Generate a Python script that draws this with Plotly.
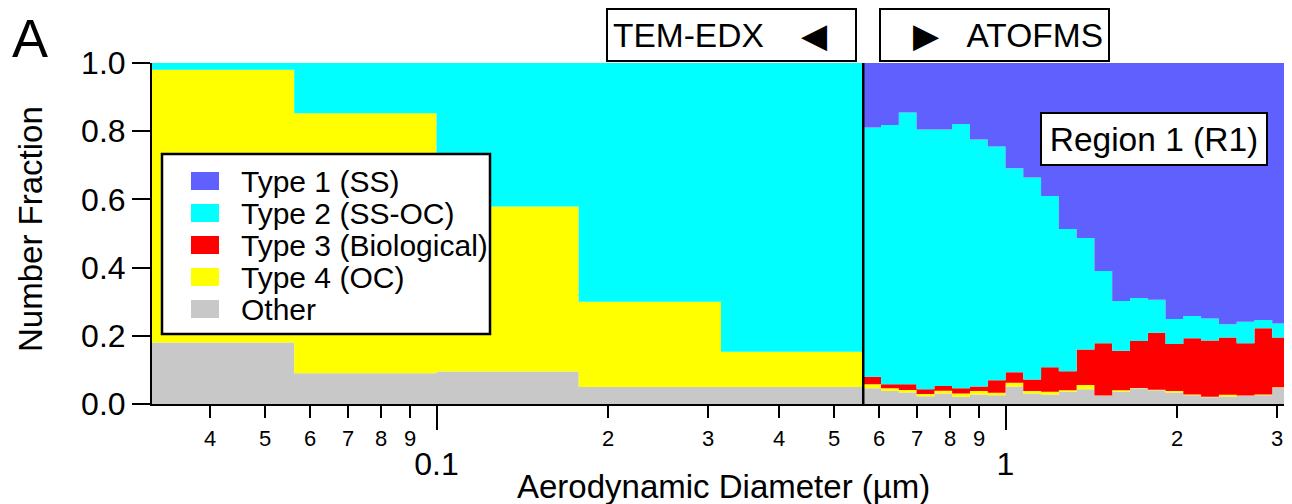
import numpy as np
import plotly.graph_objects as go

# ---------------- data ----------------
series_names = ["Type 1 (SS)", "Type 2 (SS-OC)", "Type 3 (Biological)", "Type 4 (OC)", "Other"]
series_colors = ["#6060FF", "#00FFFF", "#FF0000", "#FFFF00", "#C8C8C8"]

# TEM-EDX size bins (µm edges) and number fractions
tem_edges = [0.03162, 0.05623, 0.1, 0.1778, 0.3162, 0.5623]
tem_type1 = [0.0, 0.0, 0.0, 0.0, 0.0]
tem_type2 = [0.020, 0.147, 0.421, 0.700, 0.847]
tem_type3 = [0.0, 0.0, 0.0, 0.0, 0.0]
tem_type4 = [0.800, 0.763, 0.484, 0.250, 0.103]
tem_other = [0.180, 0.090, 0.095, 0.050, 0.050]

# ATOFMS size bins (µm edges) and number fractions
atofms_edges = [0.5623, 0.6043, 0.6494, 0.6978, 0.7499, 0.8058, 0.8660, 0.9306,
                1.0, 1.0746, 1.1548, 1.2409, 1.3335, 1.4330, 1.5399, 1.6548,
                1.7783, 1.9110, 2.0535, 2.2067, 2.3714, 2.5483, 2.7384, 2.9427, 3.1623]
atofms_type1 = [0.189, 0.182, 0.145, 0.195, 0.195, 0.179, 0.224, 0.245, 0.309, 0.336, 0.390, 0.487,
                0.513, 0.610, 0.698, 0.689, 0.694, 0.751, 0.742, 0.749, 0.766, 0.759, 0.754, 0.764]
atofms_type2 = [0.731, 0.760, 0.797, 0.762, 0.752, 0.775, 0.725, 0.685, 0.598, 0.592, 0.502, 0.417,
                0.327, 0.212, 0.146, 0.126, 0.097, 0.073, 0.065, 0.065, 0.039, 0.063, 0.024, 0.041]
atofms_type3 = [0.022, 0.012, 0.017, 0.014, 0.014, 0.015, 0.013, 0.037, 0.031, 0.034, 0.072, 0.056,
                0.104, 0.153, 0.116, 0.138, 0.167, 0.138, 0.165, 0.165, 0.168, 0.153, 0.194, 0.146]
atofms_type4 = [0.012, 0.008, 0.007, 0.006, 0.008, 0.010, 0.010, 0.007, 0.011, 0.007, 0.008, 0.004,
                0.013, 0.001, 0.004, 0.001, 0.002, 0.004, 0.002, 0.001, 0.005, 0.001, 0.002, 0.001]
atofms_other = [0.046, 0.038, 0.034, 0.023, 0.031, 0.021, 0.028, 0.026, 0.051, 0.031, 0.028, 0.036,
                0.043, 0.024, 0.036, 0.046, 0.040, 0.034, 0.026, 0.020, 0.022, 0.024, 0.026, 0.048]

minor_tick_vals = [0.04, 0.05, 0.06, 0.07, 0.08, 0.09, 0.2, 0.3, 0.4, 0.5, 0.6, 0.7, 0.8, 0.9, 2, 3]
minor_tick_text = ["4", "5", "6", "7", "8", "9", "2", "3", "4", "5", "6", "7", "8", "9", "2", "3"]
major_tick_vals = [0.1, 1]
major_tick_text = ["0.1", "1"]
y_tick_vals = [0.0, 0.2, 0.4, 0.6, 0.8, 1.0]

FONT = "Liberation Sans, Arial, Helvetica, sans-serif"

# ---------------- figure geometry ----------------
# The page body has an 8px default margin, so the figure is laid out 8px up/left.
OFF = 8
W_FIG, H_FIG = 1292 - OFF, 504 - OFF
M_L, M_R, M_T, M_B = 152 - OFF, 2, 63 - OFF, 100
PW = W_FIG - M_L - M_R
PH = H_FIG - M_T - M_B


def px_x(p):
    """reference-screen x pixel -> paper coordinate"""
    return (p - OFF - M_L) / PW


def px_y(p):
    """reference-screen y pixel -> paper coordinate"""
    return (M_T + PH - (p - OFF)) / PH


fig = go.Figure()

groups = [
    ("tem", tem_edges, [tem_type1, tem_type2, tem_type3, tem_type4, tem_other]),
    ("atofms", atofms_edges, [atofms_type1, atofms_type2, atofms_type3, atofms_type4, atofms_other]),
]
for gname, edges, vals in groups:
    # stack from bottom: Other, Type 4, Type 3, Type 2, Type 1
    for idx in [4, 3, 2, 1, 0]:
        v = list(vals[idx])
        fig.add_trace(go.Scatter(
            x=edges, y=v + [v[-1]],
            mode="lines",
            line=dict(width=0, shape="hv"),
            stackgroup=gname,
            fillcolor=series_colors[idx],
            name=series_names[idx],
            showlegend=False,
            hoverinfo="skip",
        ))

# divider between instruments (boundary of TEM-EDX bins)
fig.add_trace(go.Scatter(
    x=[tem_edges[-1], tem_edges[-1]], y=[y_tick_vals[0], y_tick_vals[-1]],
    mode="lines", line=dict(color="black", width=2.5),
    showlegend=False, hoverinfo="skip", cliponaxis=False,
))

fig.update_layout(
    width=W_FIG, height=H_FIG,
    margin=dict(l=M_L, r=M_R, t=M_T, b=M_B, autoexpand=False),
    paper_bgcolor="white", plot_bgcolor="white",
    font=dict(family=FONT, color="black", size=32),
    showlegend=False,
    xaxis=dict(
        type="log", range=[-1.5, 0.5], automargin=False,
        showgrid=False, zeroline=False,
        showline=True, linecolor="black", linewidth=2,
        ticks="outside", ticklen=24, tickwidth=2, tickcolor="black",
        tickmode="array", tickvals=major_tick_vals, ticktext=major_tick_text,
        tickfont=dict(size=32, family=FONT, color="black"),
        ticklabelstandoff=7,
        minor=dict(ticks="outside", ticklen=12, tickwidth=2, tickcolor="black",
                   tickmode="array", tickvals=minor_tick_vals, showgrid=False),
    ),
    yaxis=dict(
        range=[0, 1], automargin=False, showgrid=False, zeroline=False,
        showline=True, linecolor="black", linewidth=2,
        ticks="outside", ticklen=18, tickwidth=2, tickcolor="black",
        tickmode="array", tickvals=y_tick_vals, tickformat=".1f",
        tickfont=dict(size=32, family=FONT, color="black"),
    ),
)

# minor tick labels (single digits)
for v, t in zip(minor_tick_vals, minor_tick_text):
    fig.add_annotation(xref="x", yref="paper", x=np.log10(v), y=0, xanchor="center", yanchor="top",
                       yshift=-20, text=t, showarrow=False,
                       font=dict(size=22, family=FONT, color="black"))

# axis titles
fig.add_annotation(xref="paper", yref="paper", x=px_x(723), y=px_y(486),
                   xanchor="center", yanchor="middle", text="Aerodynamic Diameter (µm)",
                   showarrow=False, font=dict(size=33, family=FONT, color="black"))
fig.add_annotation(xref="paper", yref="paper", x=px_x(30), y=px_y(229),
                   xanchor="center", yanchor="middle", text="Number Fraction", textangle=-90,
                   showarrow=False, font=dict(size=33, family=FONT, color="black"))

div_x = np.log10(tem_edges[-1])

# instrument labels
fig.add_annotation(xref="x", yref="paper", x=div_x, y=1, xanchor="right", yanchor="bottom",
                   xshift=-6, yshift=1,
                   text="TEM-EDX\u00a0\u00a0\u00a0\u00a0◀", showarrow=False, align="left",
                   font=dict(size=33.5, family=FONT, color="black"),
                   bordercolor="black", borderwidth=2, borderpad=5, bgcolor="white",
                   width=237, height=40)
fig.add_annotation(xref="x", yref="paper", x=div_x, y=1, xanchor="left", yanchor="bottom",
                   xshift=16, yshift=1,
                   text="▶\u00a0\u00a0\u00a0ATOFMS", showarrow=False, align="right",
                   font=dict(size=33.5, family=FONT, color="black"),
                   bordercolor="black", borderwidth=2, borderpad=5, bgcolor="white",
                   width=217, height=40)

# region label
fig.add_annotation(xref="paper", yref="paper", x=px_x(1154), y=px_y(138.5),
                   xanchor="center", yanchor="middle",
                   text="Region 1 (R1)", showarrow=False,
                   font=dict(size=33.5, family=FONT, color="black"),
                   bordercolor="black", borderwidth=2, borderpad=6, bgcolor="white",
                   width=212, height=38)

# panel letter
fig.add_annotation(xref="paper", yref="paper", x=px_x(10), y=px_y(38),
                   xanchor="left", yanchor="middle", text="A", showarrow=False,
                   font=dict(size=54, family=FONT, color="black"))

# legend (drawn box)
fig.add_shape(type="rect", xref="paper", yref="paper",
              x0=px_x(162), x1=px_x(490), y0=px_y(334), y1=px_y(154),
              line=dict(color="black", width=2.5), fillcolor="white", layer="above")
for i, (nm, col) in enumerate(zip(series_names, series_colors)):
    cy = 181 + 32 * i
    fig.add_shape(type="rect", xref="paper", yref="paper",
                  x0=px_x(191), x1=px_x(219), y0=px_y(cy + 9), y1=px_y(cy - 9),
                  line=dict(width=0), fillcolor=col, layer="above")
    fig.add_annotation(xref="paper", yref="paper", x=px_x(239), y=px_y(cy),
                       xanchor="left", yanchor="middle", text=nm, showarrow=False,
                       font=dict(size=30, family=FONT, color="black"))

fig.write_html("out.html")
